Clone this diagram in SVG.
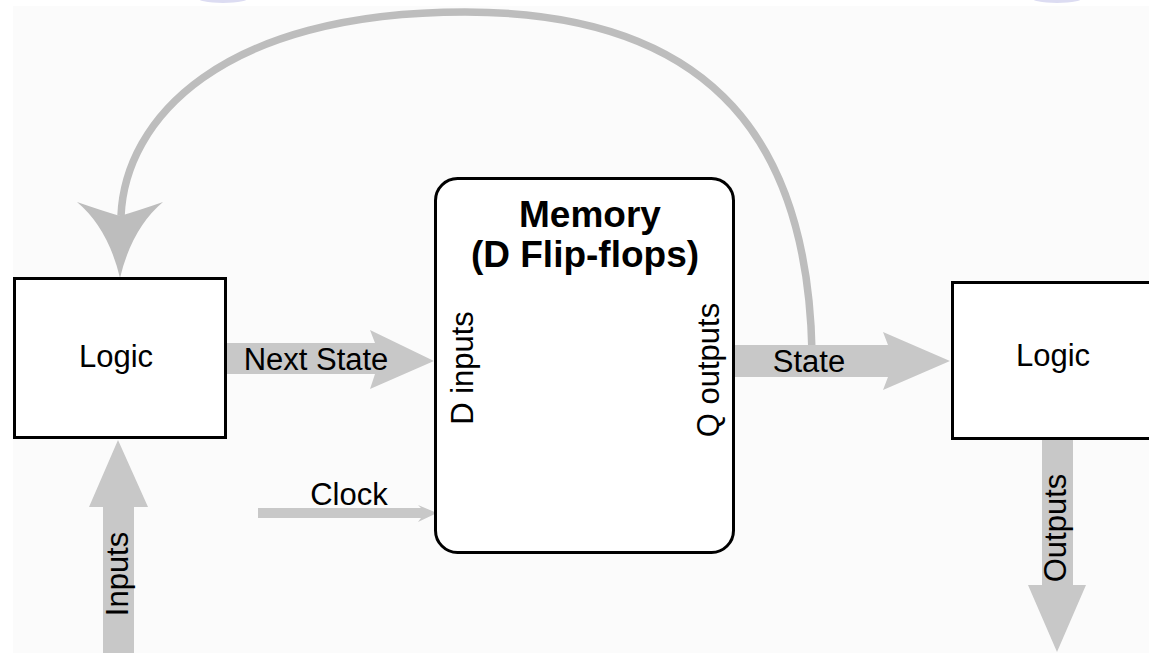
<svg xmlns="http://www.w3.org/2000/svg" width="1149" height="653" viewBox="0 0 1149 653">
  <style>
    .box { fill: #ffffff; stroke: #000000; stroke-width: 3; }
    .lbl { font-family: "Liberation Sans", Arial, sans-serif; font-size: 31px; fill: #000000; text-anchor: middle; }
    .title { font-family: "Liberation Sans", Arial, sans-serif; font-size: 37px; font-weight: bold; fill: #000000; text-anchor: middle; }
    .arrow { fill: #c8c8c8; stroke: none; }
    .loop { fill: none; stroke: #bdbdbd; stroke-width: 7.5; }
    .loophead { fill: #bdbdbd; stroke: none; }
  </style>
  <rect x="0" y="0" width="1149" height="653" fill="#ffffff"/>
  <rect x="13" y="6" width="1136" height="647" fill="#fbfbfb"/>
  <ellipse cx="223" cy="-3" rx="27" ry="6" fill="#dcdcf2"/>
  <ellipse cx="1057" cy="-3" rx="27" ry="6" fill="#dcdcf2"/>

  <g id="connectors">
    <path class="loop" d="M 812,352 C 808,150 720,12 465,12 C 220,12 125,120 121,216"/>
    <path class="loophead" d="M 77,202 Q 108,228 120,278 Q 132,228 163,202 Q 140,210 120,216 Q 100,210 77,202 Z"/>
    <polygon class="arrow" points="226,343 375,343 370,330 434,361 370,389 375,374 226,374"/>
    <polygon class="arrow" points="735,345 888,345 883,332 950,361 883,390 888,377 735,377"/>
    <polygon class="arrow" points="103,653 103,507 89,507 118,440 148,507 134,507 134,653"/>
    <polygon class="arrow" points="1042,439 1073,439 1073,585 1086,585 1057,652 1028,585 1042,585"/>
    <polygon class="arrow" points="258,508 421,508 418,505 437,513 418,522 421,518 258,518"/>
    <text class="lbl" x="316" y="370">Next State</text>
    <text class="lbl" x="809" y="372">State</text>
    <text class="lbl" x="349" y="505">Clock</text>
    <text class="lbl" transform="translate(128,574) rotate(-90)">Inputs</text>
    <text class="lbl" transform="translate(1066,528) rotate(-90)">Outputs</text>
  </g>

  <g id="logic-left">
    <rect class="box" x="14.5" y="278.5" width="211" height="159"/>
    <text class="lbl" x="116" y="367">Logic</text>
  </g>

  <g id="memory">
    <rect class="box" x="435.5" y="178.5" width="298" height="374" rx="22" ry="22"/>
    <text class="title" x="590" y="227">Memory</text>
    <text class="title" x="585" y="267">(D Flip-flops)</text>
    <text class="lbl" transform="translate(473,368) rotate(-90)">D inputs</text>
    <text class="lbl" transform="translate(719,370) rotate(-90)">Q outputs</text>
  </g>

  <g id="logic-right">
    <rect class="box" x="952.5" y="282.5" width="220" height="156"/>
    <text class="lbl" x="1053" y="366">Logic</text>
  </g>
</svg>
